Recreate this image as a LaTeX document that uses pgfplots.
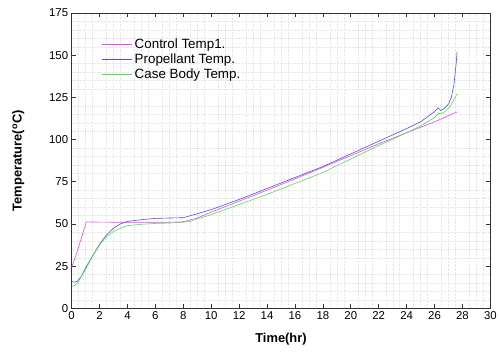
\documentclass[border=0pt]{standalone}
\usepackage{pgfplots}
\pgfplotsset{compat=1.18}
\usepackage{fontspec}
\setmainfont{Liberation Sans}
\definecolor{cmag}{RGB}{245,70,245}
\definecolor{cblue}{RGB}{80,80,230}
\definecolor{cgreen}{RGB}{80,225,80}
\begin{document}
\begin{tikzpicture}[x=1bp,y=1bp]
\path (-72,-43) rectangle (428,310);
\begin{axis}[
  at={(0,0)}, anchor=south west,
  scale only axis, width=421bp, height=297bp,
  xmin=0, xmax=30, ymin=0, ymax=175,
  xtick={0,2,...,30}, ytick={0,25,...,175},
  minor x tick num=3, minor y tick num=4,
  minor tick length=0pt,
  major tick length=4.5bp,
  tick align=inside,
  tick pos=both,
  grid=minor,
  minor grid style={gray!18, densely dotted, line width=0.3pt},
  axis line style={black!80, line width=0.8pt},
  every tick/.style={black!80, line width=0.6pt},
  /pgf/number format/assume math mode=true,
  ticklabel style={font=\fontsize{11.5}{13}\selectfont},
  xlabel={\bfseries Time(hr)},
  ylabel={\bfseries Temperature(\textsuperscript{o}C)},
  label style={font=\fontsize{13}{15}\selectfont},
  xlabel style={yshift=-6bp},
  ylabel style={yshift=18bp},
  legend style={at={(0.065,0.925)}, anchor=north west, draw=none, fill=none,
    font=\fontsize{13.5}{15}\selectfont, row sep=-0.5bp},
  legend cell align=left,
]
\addplot[cmag, line width=0.6pt, legend image code/.code={\draw[cmag, line width=0.9pt] (0bp,0bp) -- (30bp,0bp);}] coordinates {
(0,24.5)(0.3,31)(1.05,51.2)(3,51)(5,51)(7,51)(8,51.3)(9,53.5)(10,57)(12,63.5)(14,70)(16,76.7)(18,83.5)(20,90.5)(22,97.5)(24,104)(26,110.5)(27.6,116.3)};
\addlegendentry{Control Temp1.}
\addplot[cblue, line width=0.6pt, legend image code/.code={\draw[cblue, line width=0.9pt] (0bp,0bp) -- (30bp,0bp);}] coordinates {
(0,16)(0.2,15.5)(0.4,16)(0.7,19)(1,24)(1.5,31)(2,38)(2.5,43.5)(3,47.5)(3.5,50)(4,51.5)(5,52.5)(6,53.3)(7,53.5)(8,53.7)(9,56)(10,58.5)(12,64.5)(14,71)(16,77.5)(18,84)(20,91.5)(22,99)(24,106.5)(25,110.5)(26,116.5)(26.25,118.8)(26.45,117.2)(26.7,118.5)(27,121)(27.2,125)(27.4,133)(27.55,145)(27.62,152)};
\addlegendentry{Propellant Temp.}
\addplot[cgreen, line width=0.6pt, legend image code/.code={\draw[cgreen, line width=0.9pt] (0bp,0bp) -- (30bp,0bp);}] coordinates {
(0,13)(0.2,13.5)(0.5,16)(1,23)(1.5,31)(2,37.5)(2.5,42.5)(3,45.5)(3.5,47.5)(4,49)(5,49.8)(6,50.3)(7,50.5)(8,51)(8.5,51.5)(9,53)(10,55.5)(12,61.5)(14,67.5)(16,74)(18,80.5)(20,88.5)(22,96.5)(24,104)(25,108)(26,113)(26.3,115.5)(26.5,115.2)(26.8,117)(27.1,119.5)(27.35,123)(27.6,127)};
\addlegendentry{Case Body Temp.}
\end{axis}
\end{tikzpicture}
\end{document}
